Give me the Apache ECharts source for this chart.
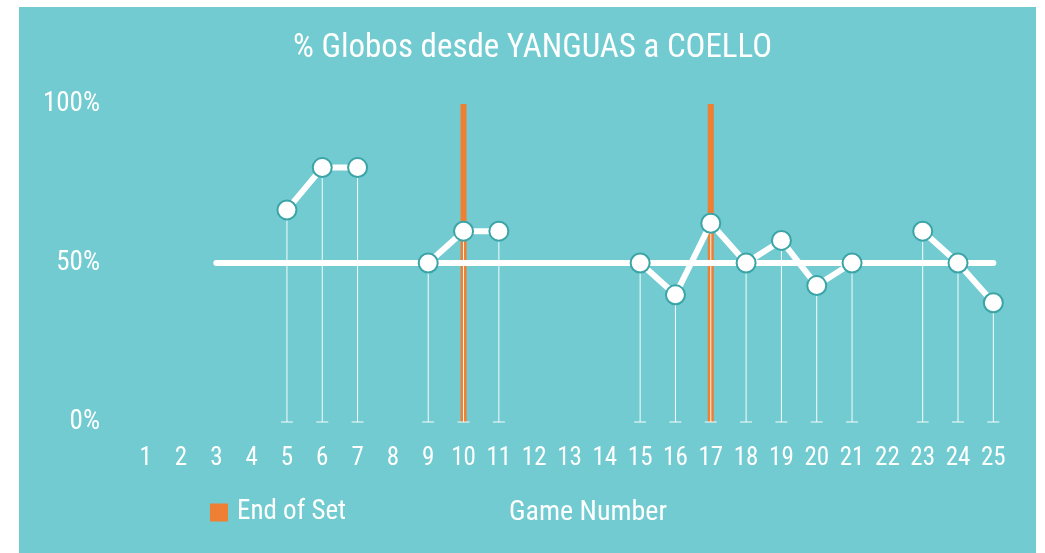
<!DOCTYPE html>
<html lang="en">
<head>
    <meta charset="UTF-8">
    <title>% Globos desde YANGUAS a COELLO</title>
    <script src="https://cdn.jsdelivr.net/npm/echarts@6/dist/echarts.min.js"></script>
    <style type="text/css">
    body {
        margin: 0;
        background: #ffffff;
        width: 1045px;
        height: 553px;
        overflow: hidden;
    }
    #chart {
        position: absolute;
        left: 19px;
        top: 7px;
        width: 1017px;
        height: 546px;
        background: #71cbd0;
    }
    </style>
</head>
<body>
<div id="chart"></div>
<script type="text/javascript">
    var games = ['1','2','3','4','5','6','7','8','9','10','11','12','13','14','15','16','17','18','19','20','21','22','23','24','25'];
    // % de globos por juego (null = sin globos)
    var globos = [null, null, null, null, 66.7, 80, 80, null, 50, 60, 60, null, null, null, 50, 40, 62.5, 50, 57.1, 42.9, 50, null, 60, 50, 37.5];
    // linea de referencia al 50%
    var media = [null, null, 50, 50, 50, 50, 50, 50, 50, 50, 50, 50, 50, 50, 50, 50, 50, 50, 50, 50, 50, 50, 50, 50, 50];
    // fin de set
    var finSet = [null, null, null, null, null, null, null, null, null, 100, null, null, null, null, null, null, 100, null, null, null, null, null, null, null, null];

    var fuente = '"Roboto Condensed", "Liberation Sans Narrow", Roboto, sans-serif';
    var naranja = '#ef7f32';

    var myChart = echarts.init(document.getElementById('chart'));

    var option = {
      animation: false,
      title: [
        {
          text: '% Globos desde YANGUAS a COELLO',
          left: 274,
          top: 25,
          padding: 0,
          textStyle: { color: '#fff', fontSize: 33, fontWeight: 'normal', fontFamily: fuente }
        },
        {
          text: 'Game Number',
          left: 490,
          top: 492,
          padding: 0,
          textStyle: { color: '#fff', fontSize: 28, fontWeight: 'normal', fontFamily: fuente }
        }
      ],
      legend: {
        data: ['End of Set'],
        left: 191,
        top: 492,
        padding: 0,
        icon: 'rect',
        itemWidth: 18,
        itemHeight: 18,
        textStyle: { color: '#fff', fontSize: 27, fontFamily: fuente, padding: [0, 0, 0, 4] }
      },
      grid: { left: 109, right: 25, top: 97, bottom: 131 },
      xAxis: {
        type: 'category',
        data: games,
        axisLine: { show: false },
        axisTick: { show: false },
        axisLabel: { color: '#fff', fontSize: 25, fontFamily: fuente, margin: 24, interval: 0 }
      },
      yAxis: {
        type: 'value',
        min: 0,
        max: 100,
        interval: 50,
        splitLine: { show: false },
        axisLine: { show: false },
        axisLabel: { color: '#fff', fontSize: 27, fontFamily: fuente, margin: 28, formatter: '{value}%', padding: [12, 0, 0, 0] }
      },
      series: [
        {
          name: 'End of Set',
          type: 'bar',
          data: finSet,
          barWidth: 6,
          itemStyle: { color: naranja },
          z: 1
        },
        {
          name: 'drop',
          type: 'custom',
          data: globos.map(function (v, i) { return [i, v]; }).filter(function (d) { return d[1] !== null; }),
          renderItem: function (params, api) {
            var top = api.coord([api.value(0), api.value(1)]);
            var base = api.coord([api.value(0), 0]);
            var st = { stroke: 'rgba(255,255,255,0.95)', lineWidth: 1 };
            return {
              type: 'group',
              children: [
                { type: 'line', shape: { x1: top[0], y1: top[1], x2: base[0], y2: base[1] }, style: st },
                { type: 'line', shape: { x1: base[0] - 6, y1: base[1], x2: base[0] + 6, y2: base[1] }, style: st }
              ]
            };
          },
          silent: true,
          z: 2
        },
        {
          name: 'media',
          type: 'line',
          data: media,
          symbol: 'none',
          lineStyle: { color: '#fff', width: 6, cap: 'round' },
          silent: true,
          z: 3
        },
        {
          name: 'globos',
          type: 'line',
          data: globos,
          connectNulls: false,
          symbol: 'circle',
          symbolSize: 19,
          lineStyle: { color: '#fff', width: 6 },
          itemStyle: { color: '#fff', borderColor: '#3aa4a7', borderWidth: 2 },
          z: 4
        }
      ]
    };
    myChart.setOption(option);
</script>
</body>
</html>
